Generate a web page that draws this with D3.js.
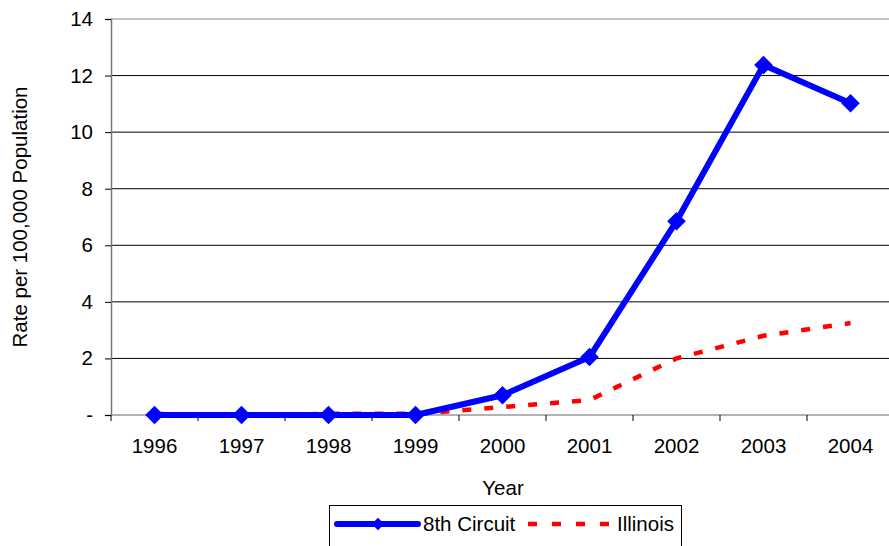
<!DOCTYPE html>
<html>
<head>
<meta charset="utf-8">
<script src="https://cdn.jsdelivr.net/npm/d3@7"></script>
<style>
  html, body { margin: 0; padding: 0; background: #fff; }
  svg { display: block; font-family: "Liberation Sans", Arial, sans-serif; }
</style>
</head>
<body>
<svg id="chart" width="889" height="546"></svg>
<script>
// Drug-related rate per 100,000 population, by year
const years = ["1996", "1997", "1998", "1999", "2000", "2001", "2002", "2003", "2004"];
const circuit8 = [0, 0, 0, 0, 0.7, 2.05, 6.85, 12.37, 11.02];
const illinois = [0.04, 0.0, 0.04, 0.04, 0.28, 0.53, 2.0, 2.8, 3.25];
const yTicks = [0, 2, 4, 6, 8, 10, 12, 14];

const svg = d3.select("#chart");
const W = 889, H = 546;
const plotLeft = 111, plotRight = 894, plotTop = 19, plotBottom = 415;
const fs = 20.5;

const x = d3.scaleBand().domain(years).range([plotLeft, plotRight]).padding(0);
const y = d3.scaleLinear().domain([0, 14]).range([plotBottom, plotTop]);
const cx = d => x(d) + x.bandwidth() / 2;

// horizontal gridlines
svg.append("g").selectAll("line").data(yTicks.filter(t => t > 0 && t < 14)).join("line")
  .attr("x1", plotLeft).attr("x2", W)
  .attr("y1", d => y(d)).attr("y2", d => y(d))
  .attr("stroke", "#000").attr("stroke-width", 1);

// plot frame top
svg.append("line").attr("x1", plotLeft).attr("x2", W)
  .attr("y1", y(14)).attr("y2", y(14)).attr("stroke", "#888").attr("stroke-width", 1.2);

// y axis
const yAxis = d3.axisLeft(y).tickValues(yTicks).tickSize(6).tickPadding(12)
  .tickFormat(d => d === 0 ? "-" : d3.format("d")(d));
const gy = svg.append("g").attr("transform", `translate(${plotLeft},0)`).call(yAxis);
gy.select(".domain").attr("stroke", "#777").attr("stroke-width", 1.5);
gy.selectAll(".tick line").attr("stroke", "#000");
gy.selectAll(".tick text").attr("font-size", fs).attr("fill", "#000");

// x axis with ticks on category boundaries
const gx = svg.append("g").attr("transform", `translate(0,${y(0)})`);
gx.append("line").attr("x1", plotLeft).attr("x2", W).attr("y1", 0).attr("y2", 0)
  .attr("stroke", "#999").attr("stroke-width", 1.5);
gx.selectAll("line.tk").data(years).join("line").attr("class", "tk")
  .attr("x1", d => x(d)).attr("x2", d => x(d)).attr("y1", 0).attr("y2", 6)
  .attr("stroke", "#000");
gx.selectAll("text").data(years).join("text")
  .attr("x", d => cx(d)).attr("y", 38).attr("text-anchor", "middle")
  .attr("font-size", fs).attr("fill", "#000").text(d => d);

// axis titles
svg.append("text").attr("x", 503).attr("y", 495)
  .attr("text-anchor", "middle").attr("font-size", fs).text("Year");
svg.append("text")
  .attr("transform", `translate(27,${(plotBottom + plotTop) / 2}) rotate(-90)`)
  .attr("text-anchor", "middle").attr("font-size", fs).text("Rate per 100,000 Population");

// series
const line = d3.line().x((d, i) => cx(years[i])).y(d => y(d));

svg.append("path").datum(illinois).attr("d", line)
  .attr("fill", "none").attr("stroke", "#ff0000").attr("stroke-width", 4.5)
  .attr("stroke-dasharray", "9,13");

svg.append("path").datum(circuit8).attr("d", line)
  .attr("fill", "none").attr("stroke", "#0000ff").attr("stroke-width", 6)
  .attr("stroke-linejoin", "round");

const diamond = d3.symbol().type(d3.symbolDiamond2).size(220);
svg.append("g").selectAll("path").data(circuit8).join("path")
  .attr("transform", (d, i) => `translate(${cx(years[i])},${y(d)})`)
  .attr("d", diamond).attr("fill", "#0000ff");

// legend
const lg = svg.append("g");
lg.append("rect").attr("x", 329.5).attr("y", 505.5).attr("width", 352).attr("height", 60)
  .attr("fill", "#fff").attr("stroke", "#000").attr("stroke-width", 1);
lg.append("line").attr("x1", 337).attr("x2", 418).attr("y1", 524).attr("y2", 524)
  .attr("stroke", "#0000ff").attr("stroke-width", 6).attr("stroke-linecap", "round");
lg.append("path").attr("transform", "translate(378,524)")
  .attr("d", d3.symbol().type(d3.symbolDiamond2).size(100)).attr("fill", "#0000ff");
lg.append("text").attr("x", 423).attr("y", 531).attr("font-size", fs).text("8th Circuit");
lg.append("line").attr("x1", 528).attr("x2", 612).attr("y1", 524).attr("y2", 524)
  .attr("stroke", "#ff0000").attr("stroke-width", 4.5).attr("stroke-dasharray", "9,15");
lg.append("text").attr("x", 617).attr("y", 531).attr("font-size", fs).text("Illinois");
</script>
</body>
</html>
